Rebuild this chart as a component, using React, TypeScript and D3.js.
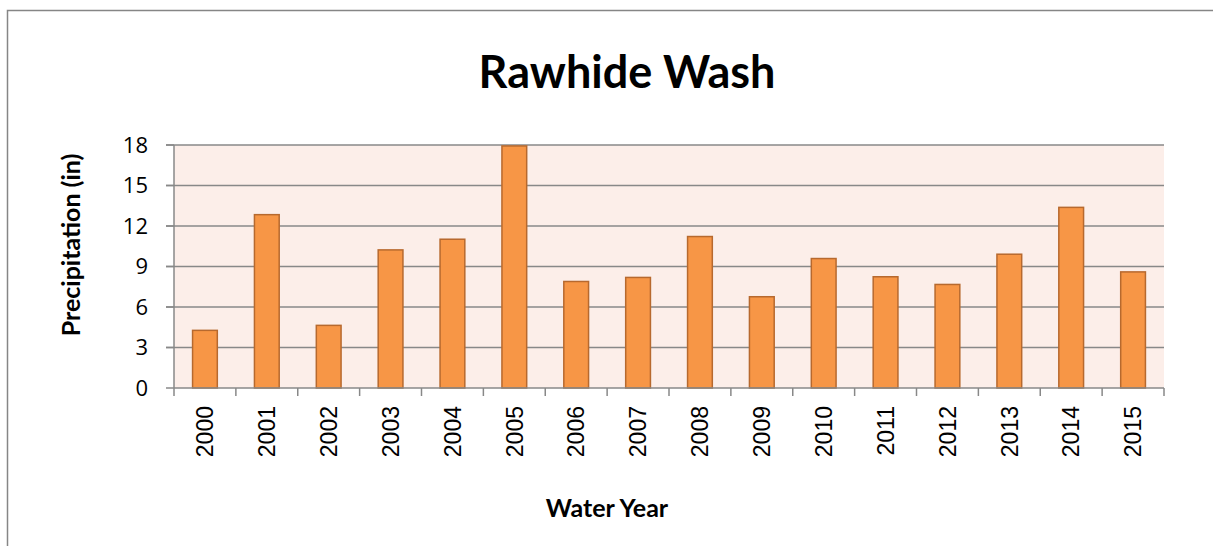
import React, { useRef, useEffect } from "react";
import * as d3 from "d3";

// values
const years = ["2000", "2001", "2002", "2003", "2004", "2005", "2006", "2007", "2008", "2009", "2010", "2011", "2012", "2013", "2014", "2015"];
const precip = [4.27, 12.84, 4.64, 10.23, 11.02, 17.93, 7.89, 8.19, 11.22, 6.76, 9.59, 8.24, 7.67, 9.91, 13.38, 8.6];
const yTicks = [0, 3, 6, 9, 12, 15, 18];

export default function App() {
  const ref = useRef<SVGSVGElement | null>(null);
  const width = 1213, height = 546;
  const margin = { top: 145, right: 49, bottom: 158, left: 174 };

  useEffect(() => {
    const svg = d3.select(ref.current);
    svg.selectAll("*").remove();

    const x0 = margin.left, x1 = width - margin.right;
    const y0 = height - margin.bottom, y1 = margin.top;

    const x = d3.scaleBand().domain(years).range([x0, x1]).paddingInner(0.6).paddingOuter(0.3);
    const xCat = d3.scaleBand().domain(years).range([x0, x1]).padding(0);
    const y = d3.scaleLinear().domain([0, 18]).range([y0, y1]);

    // outer chart frame
    svg.append("rect")
      .attr("x", 7.5).attr("y", 10.5)
      .attr("width", width + 20).attr("height", height + 20)
      .attr("fill", "#fff").attr("stroke", "#868686").attr("stroke-width", 1.5);

    // plot area
    svg.append("rect")
      .attr("x", x0).attr("y", y1)
      .attr("width", x1 - x0).attr("height", y0 - y1)
      .attr("fill", "#FCEEE9");

    // gridlines
    svg.append("g")
      .selectAll("line")
      .data(yTicks.filter(d => d > 0))
      .join("line")
      .attr("x1", x0 - 8).attr("x2", x1)
      .attr("y1", d => y(d)).attr("y2", d => y(d))
      .attr("stroke", "#888").attr("stroke-width", 1.5);

    // bars
    svg.append("g")
      .selectAll("rect")
      .data(precip)
      .join("rect")
      .attr("x", (d, i) => x(years[i])!)
      .attr("y", d => y(d))
      .attr("width", x.bandwidth())
      .attr("height", d => y(0) - y(d))
      .attr("fill", "#F79646")
      .attr("stroke", "#B7692E")
      .attr("stroke-width", 1.5);

    // y axis
    const ya = svg.append("g");
    ya.append("line")
      .attr("x1", x0).attr("x2", x0).attr("y1", y1).attr("y2", y0)
      .attr("stroke", "#888").attr("stroke-width", 1.5);
    ya.selectAll("line.tk").data(yTicks).join("line").attr("class", "tk")
      .attr("x1", x0 - 8).attr("x2", x0)
      .attr("y1", d => y(d)).attr("y2", d => y(d))
      .attr("stroke", "#888").attr("stroke-width", 1.5);
    ya.selectAll("text").data(yTicks).join("text")
      .attr("x", 148).attr("y", d => y(d))
      .attr("dy", "0.36em")
      .attr("text-anchor", "end")
      .attr("font-family", "'Open Sans', sans-serif")
      .attr("font-size", 22)
      .attr("fill", "#000")
      .text(d => d);

    // x axis
    const xa = svg.append("g");
    xa.append("line")
      .attr("x1", x0).attr("x2", x1).attr("y1", y0).attr("y2", y0)
      .attr("stroke", "#888").attr("stroke-width", 1.5);
    const bounds = years.map(d => xCat(d)!).concat([x1]);
    xa.selectAll("line.tk").data(bounds).join("line").attr("class", "tk")
      .attr("x1", d => d).attr("x2", d => d)
      .attr("y1", y0).attr("y2", y0 + 8)
      .attr("stroke", "#888").attr("stroke-width", 1.5);
    xa.selectAll("text").data(years).join("text")
      .attr("transform", d => `translate(${xCat(d)! + xCat.bandwidth() / 2},${y0 + 18}) rotate(-90)`)
      .attr("dy", "0.36em")
      .attr("text-anchor", "end")
      .attr("font-family", "'Liberation Sans', Arial, sans-serif")
      .attr("font-size", 23)
      .attr("fill", "#000")
      .text(d => d);

    // titles
    svg.append("text")
      .attr("x", 627).attr("y", 88)
      .attr("text-anchor", "middle")
      .attr("font-family", "Lato, sans-serif")
      .attr("font-weight", "bold")
      .attr("font-size", 45)
      .text("Rawhide Wash");

    svg.append("text")
      .attr("x", 607).attr("y", 517)
      .attr("text-anchor", "middle")
      .attr("font-family", "Lato, sans-serif")
      .attr("font-weight", "bold")
      .attr("font-size", 25)
      .text("Water Year");

    svg.append("text")
      .attr("transform", `translate(80,245) rotate(-90)`)
      .attr("text-anchor", "middle")
      .attr("font-family", "Lato, sans-serif")
      .attr("font-weight", "bold")
      .attr("font-size", 25)
      .text("Precipitation (in)");
  }, []);

  return (
    <svg ref={ref} width={width} height={height}
      style={{ position: "absolute", left: 0, top: 0, display: "block" }} />
  );
}
